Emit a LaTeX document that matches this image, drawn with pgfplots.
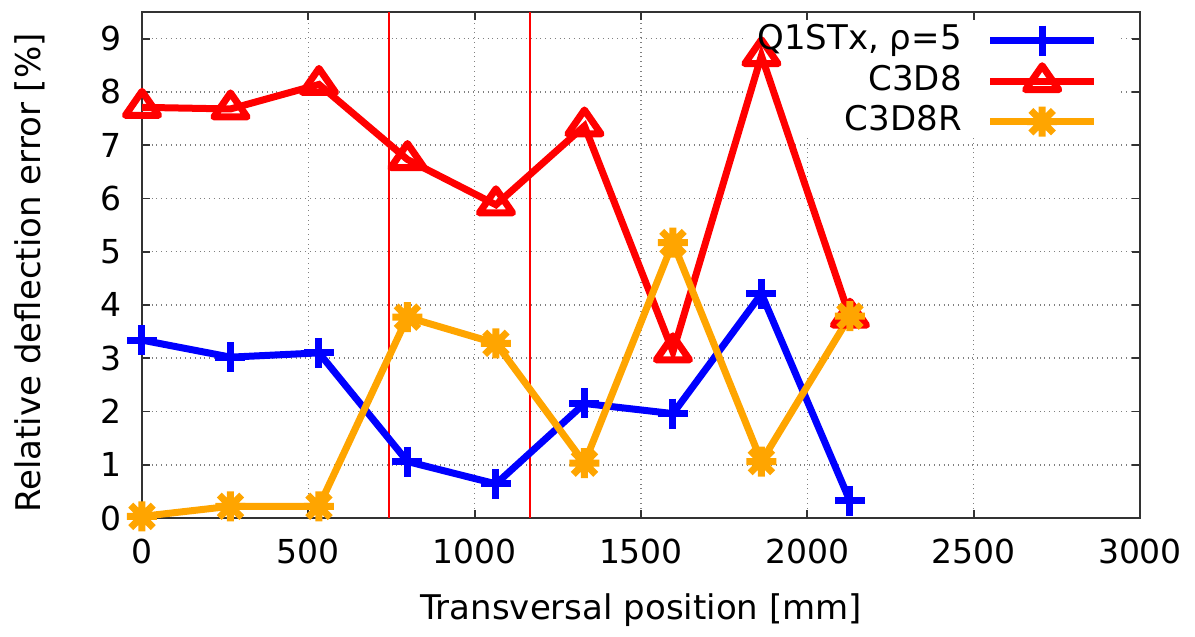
\documentclass[border=0pt]{standalone}
\usepackage{fontspec}
\setmainfont{DejaVu Sans}
\usepackage{pgfplots}
\pgfplotsset{compat=1.18}
\definecolor{qblue}{RGB}{0,0,255}
\definecolor{qred}{RGB}{255,0,0}
\definecolor{qorange}{RGB}{255,165,0}
\pgfdeclareplotmark{gpstar}{%
  \pgfpathmoveto{\pgfqpoint{-\pgfplotmarksize}{0pt}}%
  \pgfpathlineto{\pgfqpoint{\pgfplotmarksize}{0pt}}%
  \pgfpathmoveto{\pgfqpoint{0pt}{-\pgfplotmarksize}}%
  \pgfpathlineto{\pgfqpoint{0pt}{\pgfplotmarksize}}%
  \pgfpathmoveto{\pgfqpoint{-0.75\pgfplotmarksize}{-0.75\pgfplotmarksize}}%
  \pgfpathlineto{\pgfqpoint{0.75\pgfplotmarksize}{0.75\pgfplotmarksize}}%
  \pgfpathmoveto{\pgfqpoint{-0.75\pgfplotmarksize}{0.75\pgfplotmarksize}}%
  \pgfpathlineto{\pgfqpoint{0.75\pgfplotmarksize}{-0.75\pgfplotmarksize}}%
  \pgfusepathqstroke}
\pgfplotstableread{
x q c c8r
0    3.34 7.71 0.03
266  3.02 7.68 0.22
532  3.10 8.14 0.22
798  1.06 6.73 3.77
1064 0.64 5.88 3.28
1330 2.15 7.36 1.03
1596 1.96 3.12 5.17
1862 4.21 8.68 1.06
2128 0.32 3.77 3.79
}\datatable
\begin{document}
\begin{tikzpicture}
\begin{axis}[
  scale only axis, width=499pt, height=253pt,
  xmin=0, xmax=3000, ymin=0, ymax=9.5,
  xtick={0,500,...,3000}, ytick={0,1,...,9},
  grid=major, major grid style={dotted, gray, line width=0.8pt},
  tick align=inside, tick pos=both, major tick length=4pt,
  axis line style={line width=0.9pt, black!80},
  tick style={black!80, line width=0.9pt},
  /pgf/number format/assume math mode=true,
  /pgf/number format/1000 sep={},
  ticklabel style={font=\fontsize{16.5}{19}\selectfont},
  yticklabel style={xshift=-6.5pt},
  xticklabel style={yshift=-7pt},
  xlabel={Transversal position [mm]},
  ylabel={Relative deflection error [\%]},
  every axis x label/.style={at={(axis description cs:0.5,0)}, anchor=center, yshift=-46pt, font=\fontsize{17}{20}\selectfont},
  every axis y label/.style={at={(axis description cs:0,0.5)}, xshift=-56pt, yshift=-4pt, rotate=90, anchor=center, font=\fontsize{17}{20}\selectfont},
  clip=false,
  legend style={draw=none, fill=none, at={(axis cs:2874,9.25)}, anchor=north east,
    font=\fontsize{17}{20}\selectfont, inner sep=0pt, row sep=5pt, column sep=12.5pt,
    nodes={inner sep=0pt, text height=12pt, text depth=3pt}},
  legend cell align=right, legend plot pos=right,
  legend image code/.code={\draw[mark repeat=2,mark phase=2] plot coordinates {(0pt,0pt) (26pt,0pt) (52pt,0pt)};},
]
\coordinate (O) at (rel axis cs:0,0);
\fill[white] (axis cs:1819,7.19) rectangle (axis cs:2931,9.33);
\addplot[color=qred, line width=1pt, forget plot] coordinates {(1165,0) (1165,9.5)};
\addplot[color=qred, line width=1pt, forget plot] coordinates {(743,0) (743,9.5)};
\addplot[qblue, line width=3.5pt, mark=+, mark size=7.5pt, mark options={solid}] table[x=x, y=q] {\datatable};
\addlegendentry{Q1STx, ρ=5}
\addplot[qred, line width=3.5pt, mark=triangle, mark size=8pt, mark options={solid, line join=round, xscale=1.2}] table[x=x, y=c] {\datatable};
\addlegendentry{C3D8}
\addplot[qorange, line width=3.5pt, mark=gpstar, mark size=7.5pt, mark options={solid}] table[x=x, y=c8r] {\datatable};
\addlegendentry{C3D8R}
\end{axis}
\pgfresetboundingbox
\path[use as bounding box] ([shift={(-71pt,-59.5pt)}]O) rectangle ([shift={(526.5pt,259pt)}]O);
\end{tikzpicture}
\end{document}
